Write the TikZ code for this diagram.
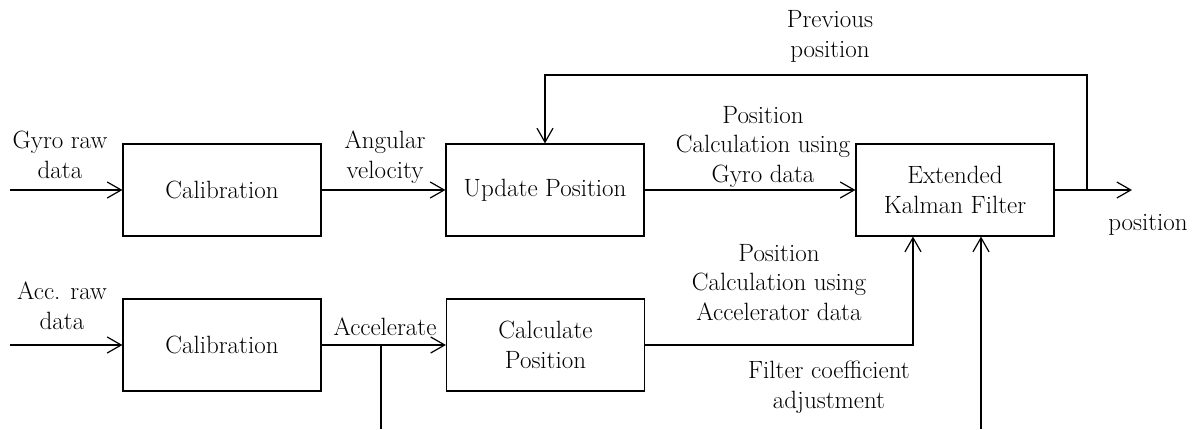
\documentclass[tikz,border=0pt]{standalone}
\usetikzlibrary{arrows.meta}
\begin{document}
\begin{tikzpicture}[x=1pt,y=-1pt,
  font=\fontsize{25}{29.5}\selectfont,
  block/.style={draw, line width=1.2pt, minimum width=198pt, minimum height=92pt,
    inner sep=0pt, align=center},
  flow/.style={line width=1.2pt, -{Straight Barb[length=14pt,width=16pt,line width=1.2pt]}},
  wire/.style={line width=1.2pt},
  lbl/.style={anchor=base, align=center, inner sep=0pt}]
\useasboundingbox (0,0) rectangle (1195,429);

% processing blocks
\node[block] (cal1) at (222,190) {Calibration};
\node[block] (upd)  at (545,190) {Update Position};
\node[block] (ekf)  at (955,190) {Extended\\Kalman Filter};
\node[block] (cal2) at (222,345) {Calibration};
\node[block] (calc) at (545.5,345) {Calculate\\Position};

% free ends of the connectors
\coordinate (gin)    at (10,190);
\coordinate (ain)    at (10,345);
\coordinate (out)    at (1132,190);
\coordinate (fbk)    at (1087,190);
\coordinate (fbtop)  at (1087,75);
\coordinate (branch) at (381,345);
\coordinate (branchend) at (381,429);
\coordinate (acctap) at (913,345);
\coordinate (coef)   at (981,429);

% gyro path
\draw[flow] (gin) -- (cal1);
\draw[flow] (cal1) -- (upd);
\draw[flow] (upd) -- (ekf);
\draw[flow] (ekf) -- (out);
\draw[flow] (fbk) -- (fbtop) -| (upd.north);

% accelerometer path
\draw[flow] (ain) -- (cal2);
\draw[flow] (cal2) -- (calc);
\draw[wire] (branch) -- (branchend);
\draw[flow] (calc) -- (acctap) -- (acctap |- ekf.south);
\draw[flow] (coef) -- (coef |- ekf.south);

% labels (placed by the baseline of their last line)
\node[lbl] (lgyro) at (60,178)  {Gyro raw\\data};
\node[lbl] (lang)  at (385,178) {Angular\\velocity};
\node[lbl] (lprev) at (830,57)  {Previous\\position};
\node[lbl] (lgpos) at (763,182) {Position\\Calculation using\\Gyro data};
\node[lbl] (lout)  at (1148,230) {position};
\node[lbl] (lacc)  at (62,329)  {Acc. raw\\data};
\node[lbl] (lacl)  at (385,335) {Accelerate};
\node[lbl] (lapos) at (779,320) {Position\\Calculation using\\Accelerator data};
\node[lbl] (lcoef) at (829,408) {Filter coefficient\\adjustment};
\end{tikzpicture}
\end{document}
